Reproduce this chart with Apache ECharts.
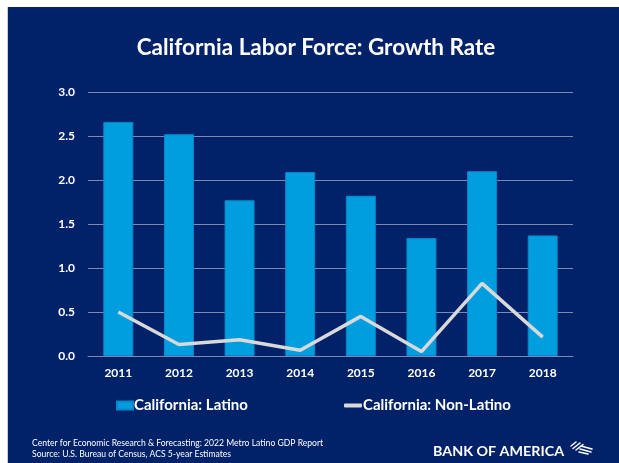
<!DOCTYPE html>
<html>
<head>
<meta charset="utf-8">
<script src="https://cdn.jsdelivr.net/npm/echarts@6/dist/echarts.min.js"></script>
<style>
  html, body { margin: 0; padding: 0; background: #ffffff; }
  #chart { position: absolute; left: 0; top: 0; width: 619px; height: 463px; }
</style>
</head>
<body>
<div id="chart"></div>
<script>
// Labor force growth rate, California, by year
const years = ['2011', '2012', '2013', '2014', '2015', '2016', '2017', '2018'];
const latino = [2.66, 2.52, 1.77, 2.09, 1.82, 1.34, 2.10, 1.37];
const nonLatino = [0.50, 0.13, 0.185, 0.065, 0.45, 0.05, 0.825, 0.215];
const yTicks = [0, 0.5, 1.0, 1.5, 2.0, 2.5, 3.0];

const NAVY = '#012169';
const FONT = 'Lato';

const chart = echarts.init(document.getElementById('chart'), null, { renderer: 'canvas' });

const flagStroke = { stroke: '#ffffff', lineWidth: 1.5, lineCap: 'round' };

chart.setOption({
  backgroundColor: '#ffffff',
  animation: false,
  title: {
    text: 'California Labor Force: Growth Rate',
    left: 316,
    textAlign: 'center',
    top: 36,
    padding: 0,
    textStyle: { color: '#ffffff', fontFamily: FONT, fontWeight: 'bold', fontSize: 22.5 }
  },
  legend: [
    {
      data: ['California: Latino'],
      left: 116, top: 398, padding: 0,
      icon: 'rect', itemWidth: 16, itemHeight: 8,
      textStyle: { color: '#ffffff', fontFamily: FONT, fontWeight: 'bold', fontSize: 15, padding: [0, 0, 0, -4] }
    },
    {
      data: ['California: Non-Latino'],
      left: 344, top: 398, padding: 0,
      icon: 'roundRect', itemWidth: 18, itemHeight: 4,
      textStyle: { color: '#ffffff', fontFamily: FONT, fontWeight: 'bold', fontSize: 15, padding: [0, 0, 0, -4] }
    }
  ],
  grid: { left: 88, right: 46, top: 92, bottom: 107 },
  xAxis: {
    type: 'category',
    data: years,
    axisTick: { show: false },
    axisLine: { show: true, lineStyle: { color: '#7f88b2', width: 1 } },
    axisLabel: { color: '#ffffff', fontFamily: FONT, fontWeight: 'bold', fontSize: 12, margin: 11 }
  },
  yAxis: {
    type: 'value',
    min: yTicks[0], max: yTicks[yTicks.length - 1], interval: 0.5,
    axisLine: { show: false },
    axisTick: { show: false },
    splitLine: { lineStyle: { color: '#7f88b2', width: 1 } },
    axisLabel: {
      color: '#ffffff', fontFamily: FONT, fontWeight: 'bold', fontSize: 12, margin: 13,
      formatter: v => v.toFixed(1)
    }
  },
  series: [
    {
      name: 'California: Latino',
      type: 'bar',
      data: latino,
      barWidth: 30,
      itemStyle: { color: '#009ddf', borderColor: '#0a86c8', borderWidth: 1 }
    },
    {
      name: 'California: Non-Latino',
      type: 'line',
      data: nonLatino,
      symbol: 'none',
      lineStyle: { color: '#d9d9d9', width: 3.5 },
      itemStyle: { color: '#d9d9d9' }
    }
  ],
  graphic: [
    { type: 'rect', z: -10, shape: { x: 7, y: 7, width: 612, height: 456 }, style: { fill: NAVY } },
    { type: 'line', z: -9, shape: { x1: 7.5, y1: 7, x2: 7.5, y2: 463 }, style: { stroke: '#c8ccd8', lineWidth: 1 } },
    {
      type: 'text', left: 32, top: 438.5,
      style: { text: 'Center for Economic Research & Forecasting: 2022 Metro Latino GDP Report', fill: '#ffffff', font: '8.6px ' + FONT }
    },
    {
      type: 'text', left: 32, top: 449.5,
      style: { text: 'Source: U.S. Bureau of Census, ACS 5-year Estimates', fill: '#ffffff', font: '8.6px ' + FONT }
    },
    // wordmark, widened to its tracked-out width
    {
      type: 'text', x: 433, y: 445, scaleX: 1.1, originX: 0, originY: 0,
      style: { text: 'BANK OF AMERICA', fill: '#ffffff', font: 'bold 13px ' + FONT }
    },
    // flag mark: short rising stripes at upper left, long falling stripes at lower right
    {
      type: 'group', x: 570, y: 440,
      children: [
        { type: 'line', shape: { x1: 1, y1: 6, x2: 6, y2: 2 }, style: flagStroke },
        { type: 'line', shape: { x1: 3, y1: 8.5, x2: 10, y2: 3 }, style: flagStroke },
        { type: 'line', shape: { x1: 6, y1: 10, x2: 13, y2: 4.5 }, style: flagStroke },
        { type: 'line', shape: { x1: 11, y1: 6, x2: 22, y2: 9 }, style: flagStroke },
        { type: 'line', shape: { x1: 10, y1: 9, x2: 21, y2: 12 }, style: flagStroke },
        { type: 'line', shape: { x1: 9, y1: 12, x2: 18, y2: 14 }, style: flagStroke }
      ]
    }
  ]
});
</script>
</body>
</html>
